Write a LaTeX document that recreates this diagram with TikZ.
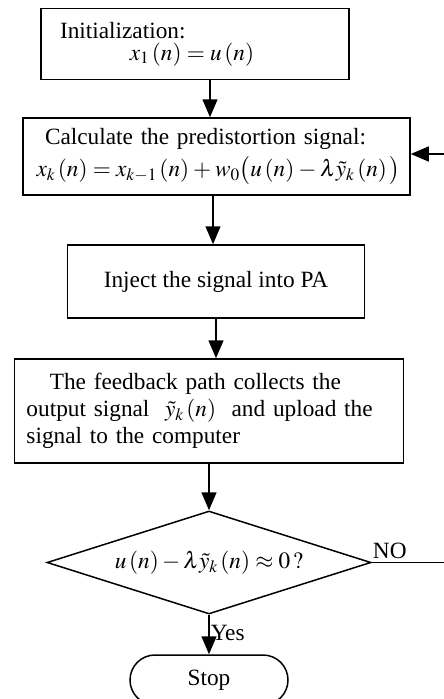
\documentclass[tikz,border=0pt]{standalone}
\usepackage{mathptmx}
\usepackage{fontspec}
\setmainfont{Liberation Serif}
\usetikzlibrary{shapes,arrows.meta,positioning}

\tikzstyle{stepbox} = [rectangle, draw=black, line width=1.5pt, fill=none, text=black, font=\fontsize{23.3}{27}\selectfont, inner sep=0pt, align=left]
\tikzstyle{decision} = [diamond, aspect=3.146, draw=black, line width=1.5pt, fill=none, text=black, font=\fontsize{23.3}{27}\selectfont, inner sep=0pt]
\tikzstyle{terminal} = [rounded rectangle, draw=black, line width=1.5pt, fill=none, text=black, font=\fontsize{23.3}{27}\selectfont, inner sep=0pt]
\tikzstyle{textonly} = [draw=none, fill=none, font=\fontsize{23.3}{27}\selectfont, inner sep=1pt]
\tikzstyle{tedge}  = [draw, line width=1.5pt, -{Triangle[width=15pt,length=18pt]}]

\begin{document}
\begin{tikzpicture}[x=1pt, y=-1pt]

\useasboundingbox (0,0) rectangle (444,699);
\clip (0,0) rectangle (444,699);

% steps =============================

\node[stepbox, minimum width=308pt, minimum height=71pt, text width=270pt] (init) at (195,44)
  {Initialization:\\[-5pt]\hspace*{3em}$x_1\left(n\right)=u\left(n\right)$};

\node[stepbox, minimum width=387pt, minimum height=77pt, text width=360pt] (calc) at (216.5,156.5)
  {\hspace*{8.5pt}Calculate the predistortion signal:\\[5pt]%
   \mbox{$\medmuskip=3mu\thickmuskip=4mu x_k\left(n\right)=x_{k-1}\left(n\right)+w_0\big(u\left(n\right)-\lambda\tilde{y}_k\left(n\right)\big)$}};

\node[stepbox, minimum width=297pt, minimum height=73pt] (inject) at (216,281.5)
  {Inject the signal into PA};

\node[stepbox, minimum width=389pt, minimum height=104pt, text width=365pt] (collect) at (209,411)
  {\hspace*{1em}The feedback path collects the\\output signal \ $\tilde{y}_k\left(n\right)$ \ and upload the\\signal to the computer};

% check and stop
\node[decision, minimum width=324pt, minimum height=103pt] (check) at (209,562.5)
  {$u\left(n\right)-\lambda\tilde{y}_k\left(n\right)\approx 0\,?$};

\node[terminal, minimum width=158pt, minimum height=50pt] (stop) at (209,680) {Stop};

% edges =============================

\path[tedge] ([xshift=15pt]init.south) -- ([xshift=15pt]init.south |- calc.north);
\path[tedge] ([xshift=-3.5pt]calc.south) -- ([xshift=-3.5pt]calc.south |- inject.north);
\path[tedge] (inject.south) -- (inject.south |- collect.north);
\path[tedge] (collect.south) -- (collect.south |- check.north);
\path[tedge] (check.south) -- node[textonly, right, pos=0.45] {Yes} (check.south |- stop.north);

% loop back (its upright part lies right of the page)
\path[tedge] (check.east) -- ++(100,0) |- ([yshift=2.5pt]calc.east);
\node[textonly, anchor=south west, yshift=3pt] (no) at (check.east) {NO};

\end{tikzpicture}
\end{document}
